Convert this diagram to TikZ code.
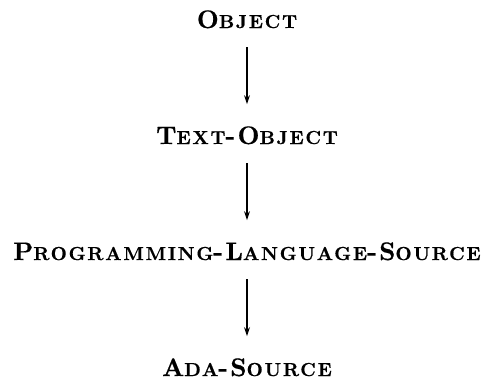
\documentclass[tikz,border=0pt]{standalone}
\usepackage{fontspec}
\setmainfont{lmroman10-regular.otf}[BoldFont=lmroman10-bold.otf,
  BoldFeatures={FakeBold=0.5}, LetterSpace=9]
\usepackage{tikz}
\usetikzlibrary{arrows.meta}
\newcommand{\smc}[1]{{\fontsize{18.9}{22}\selectfont #1}}
\tikzset{
  cls/.style={font=\fontsize{25.5}{28}\selectfont\bfseries, inner sep=0pt, anchor=base},
  isa/.style={-{Stealth[length=9bp,width=6bp]}, line width=1.1bp,
              shorten <=19bp, shorten >=22bp}
}
\begin{document}
\begin{tikzpicture}[x=1bp,y=-1bp]
  \useasboundingbox (0,0) rectangle (486,383);
  \foreach \n/\t/\i in {
    obj/{O\smc{BJECT}}/0,
    txt/{T\smc{EXT}-O\smc{BJECT}}/1,
    pls/{P\smc{ROGRAMMING}-L\smc{ANGUAGE}-S\smc{OURCE}}/2,
    ada/{A\smc{DA}-S\smc{OURCE}}/3%
  }{
    \pgfmathsetmacro\yy{28 + \i * 116}
    \node[cls] (\n) at (247,\yy) {\t};
  }
  \foreach \a/\b in {obj/txt, txt/pls, pls/ada}
    \draw[isa] (\a) -- (\b);
\end{tikzpicture}
\end{document}
